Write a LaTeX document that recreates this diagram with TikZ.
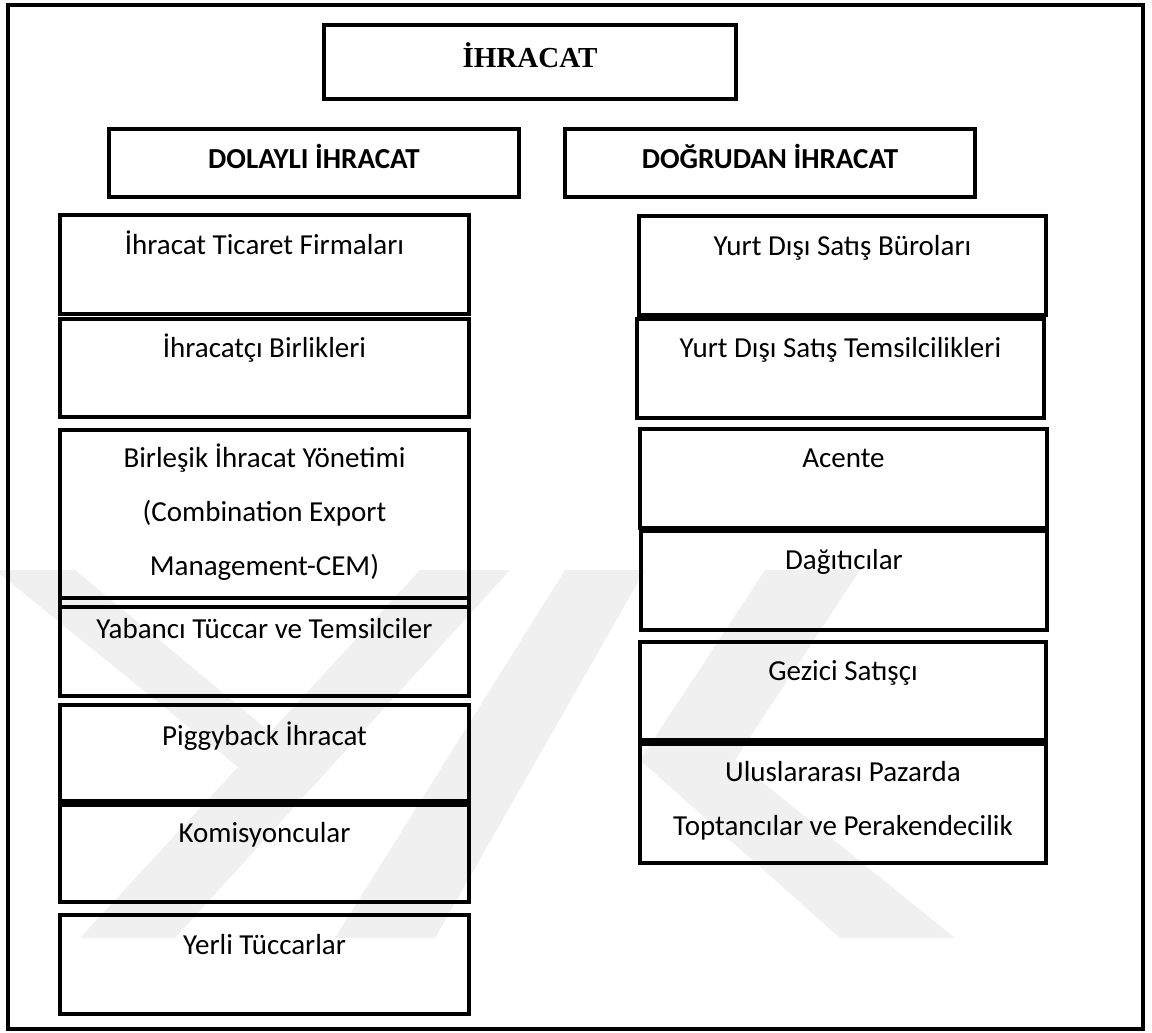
\documentclass[tikz,border=0pt]{standalone}
\usepackage{fontspec}
\setmainfont{Carlito}
\newfontfamily\titlefont{Liberation Serif}
\begin{document}
\begin{tikzpicture}[x=1pt,y=-1pt]
\tikzset{
  frm/.style={draw, line width=4.5pt, inner sep=0pt, outer sep=0pt},
  bx/.style={draw, line width=4.5pt, inner sep=0pt, outer sep=0pt},
  txt/.style={font=\fontsize{29}{54}\selectfont, inner sep=0pt, anchor=base, align=center},
  head/.style={font=\bfseries\fontsize{29}{35}\selectfont, inner sep=0pt, anchor=base},
  ttl/.style={font=\titlefont\bfseries\fontsize{29}{32}\selectfont, inner sep=0pt, anchor=base},
  wm/.style={fill=black!6, draw=none}
}
\newcommand\mybox[6][bx]{\node[#1, minimum width=#5-#3, minimum height=#6-#4] (#2) at ({(#3+#5)/2},{(#4+#6)/2}) {};}
\useasboundingbox (0,0) rectangle (1152,1033);
\fill[white] (0,0) rectangle (1152,1033);
% watermark
\fill[wm] (-5,570) -- (75,570) -- (292,750) -- (238,767) -- cycle;
\fill[wm] (420,570) -- (510,570) -- (175,938) -- (80,938) -- cycle;
\fill[wm] (565,570) -- (645,570) -- (435,938) -- (335,938) -- cycle;
\fill[wm] (765,570) -- (860,570) -- (735,760) -- (955,938) -- (840,938) -- (640,760) -- cycle;
% frame and boxes
\mybox[frm]{frame}{8}{5}{1143}{1029}
\mybox{T}{324}{25}{736}{99}
\mybox{DL}{109}{129}{519}{197}
\mybox{DG}{565}{129}{975}{197}
\mybox{L1}{60}{215}{469}{314}
\mybox{L2}{60}{319}{469}{417}
\mybox{L3}{60}{430}{469}{607}
\mybox{L4}{60}{598}{469}{696}
\mybox{L5}{60}{705}{469}{801}
\mybox{L6}{60}{805}{469}{902}
\mybox{L7}{60}{915}{469}{1014}
\mybox{R1}{639}{216}{1046}{315}
\mybox{R2}{637}{319}{1044}{418}
\mybox{R3}{640}{429}{1047}{528}
\mybox{R4}{641}{531}{1047}{630}
\mybox{R5}{640}{642}{1046}{740}
\mybox{R6}{640}{744}{1046}{863}
% texts
\node[ttl] (tT) at (T.center |- 0,67) {İHRACAT};
\node[head] (tDL) at (DL.center |- 0,168) {DOLAYLI İHRACAT};
\node[head] (tDG) at (DG.center |- 0,168) {DOĞRUDAN İHRACAT};
\node[txt] (tL1) at (L1.center |- 0,254) {İhracat Ticaret Firmaları};
\node[txt] (tL2) at (L2.center |- 0,357) {İhracatçı Birlikleri};
\node[txt] (tL3) at (L3.center |- 0,575) {Birleşik İhracat Yönetimi\\(Combination Export\\Management-CEM)};
\node[txt] (tL4) at (L4.center |- 0,638) {Yabancı Tüccar ve Temsilciler};
\node[txt] (tL5) at (L5.center |- 0,745) {Piggyback İhracat};
\node[txt] (tL6) at (L6.center |- 0,842) {Komisyoncular};
\node[txt] (tL7) at (L7.center |- 0,954) {Yerli Tüccarlar};
\node[txt] (tR1) at (R1.center |- 0,255) {Yurt Dışı Satış Büroları};
\node[txt] (tR2) at (R2.center |- 0,357) {Yurt Dışı Satış Temsilcilikleri};
\node[txt] (tR3) at (R3.center |- 0,467) {Acente};
\node[txt] (tR4) at (R4.center |- 0,569) {Dağıtıcılar};
\node[txt] (tR5) at (R5.center |- 0,680) {Gezici Satışçı};
\node[txt] (tR6) at (R6.center |- 0,835) {Uluslararası Pazarda\\Toptancılar ve Perakendecilik};
\end{tikzpicture}
\end{document}
